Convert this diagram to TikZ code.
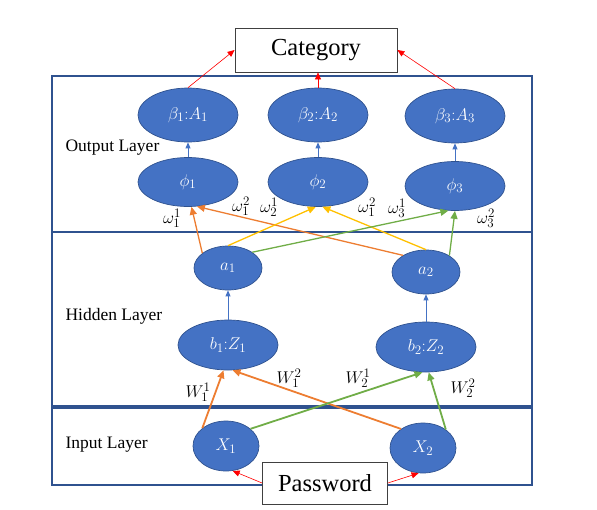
\RequirePackage{fix-cm}
\documentclass[tikz,border=0pt]{standalone}
\usepackage{fontspec}
\setmainfont{Liberation Serif}
\usetikzlibrary{shapes.geometric}
\usetikzlibrary{arrows.meta}
\DeclareMathSizes{17}{17}{13}{10}

\definecolor{nodeblue}{RGB}{68,114,196}
\definecolor{edgeblue}{RGB}{47,82,143}
\definecolor{wOrange}{RGB}{237,125,49}
\definecolor{wYellow}{RGB}{255,192,0}
\definecolor{wGreen}{RGB}{112,173,71}

\begin{document}
\begin{tikzpicture}
	[x=1pt, y=-1pt,
	neuron/.style={ellipse, fill=nodeblue, draw=edgeblue, line width=0.7pt, text=white, inner sep=0pt, font=\fontsize{17}{20}\selectfont},
	layer box/.style={draw=edgeblue, line width=1.3pt},
	io box/.style={draw=black!75, fill=white, line width=0.8pt, inner sep=0pt, font=\fontsize{24.5}{28}\selectfont},
	red link/.style={red, line width=0.6pt, -{Triangle[length=7pt,width=6pt]}},
	blue link/.style={color=nodeblue, line width=0.8pt, -{Triangle[length=6pt,width=5pt]}},
	weight/.style={line width=#1, -{Triangle[length=8pt,width=7pt]}},
	weight/.default=1.3pt,
	layer label/.style={anchor=west, font=\fontsize{17.5}{20}\selectfont},
	wlabel/.style={inner sep=0pt, font=\fontsize{17}{20}\selectfont}]

	\useasboundingbox (0,0) rectangle (597,509);

	% layers
	\draw[layer box] (52,76) rectangle (532,232);
	\draw[layer box] (52,232) rectangle (532,406);
	\draw[layer box] (52,408) rectangle (532,485);
	\node[layer label] (outlbl) at (62,148) {Output Layer};
	\node[layer label] (hidlbl) at (62,316) {Hidden Layer};
	\node[layer label] (inlbl) at (62,445) {Input Layer};

	\node[io box, minimum width=162, minimum height=44] (cat) at (316,50) {Category};
	\node[io box, minimum width=125, minimum height=42] (pwd) at (325,483) {Password};

	\foreach \i/\x/\y in {1/188/115, 2/318/115, 3/455/116}
		\node[neuron, minimum width=100, minimum height=54] (beta\i) at (\x,\y) {$\beta_\i{:}A_\i$};
	\foreach \i/\x/\y in {1/188/182, 2/318/182, 3/455/186}
		\node[neuron, minimum width=100, minimum height=49] (phi\i) at (\x,\y) {$\phi_\i$};
	\foreach \i/\x/\y in {1/228/268, 2/426/272}
		\node[neuron, minimum width=68, minimum height=44] (a\i) at (\x,\y) {$a_\i$};
	\foreach \i/\x/\y in {1/228/345, 2/426/347}
		\node[neuron, minimum width=100, minimum height=50] (b\i) at (\x,\y) {$b_\i{:}Z_\i$};
	\foreach \i/\x/\y in {1/226/446, 2/423/448}
		\node[neuron, minimum width=66, minimum height=50] (x\i) at (\x,\y) {$X_\i$};

	% red and blue links
	\draw[red link] (beta1.north) -- (cat.west);
	\draw[red link] (beta2.north) -- (beta2.north |- cat.south);
	\draw[red link] (beta3.north) -- (cat.east);
	\draw[red link] (pwd.west) -- (x1.285);
	\draw[red link] (pwd.east) -- (x2.260);
	\foreach \i in {1,2,3}
		\draw[blue link] (phi\i) -- (beta\i);
	\foreach \i in {1,2}
		\draw[blue link] (b\i) -- (a\i);

	% input -> hidden
	\draw[weight=1.8pt, wOrange] (x1.143) -- (b1.260);
	\draw[weight=1.8pt, wOrange] (x2.139) -- (b1.280);
	\draw[weight=1.8pt, wGreen] (x1.35) -- (b2.262);
	\draw[weight=1.8pt, wGreen] (x2.39) -- (b2.276);

	% hidden -> output
	\draw[weight, wOrange] (a1.150) -- (phi1.278);
	\draw[weight, wOrange] (a2.144) -- (phi1.290);
	\draw[weight, wYellow] (a1.90) -- (phi2.265);
	\draw[weight, wYellow] (a2.90) -- (phi2.280);
	\draw[weight, wGreen] (a1.33) -- (phi3.255);
	\draw[weight, wGreen] (a2.35) -- (phi3.270);

	\node[wlabel] (w11) at (172,218) {$\omega_1^1$};
	\node[wlabel] (w12) at (241,206) {$\omega_1^2$};
	\node[wlabel] (w21) at (269,207) {$\omega_2^1$};
	\node[wlabel] (w12b) at (367,207) {$\omega_1^2$};
	\node[wlabel] (w31) at (397,208) {$\omega_3^1$};
	\node[wlabel] (w32) at (486,218) {$\omega_3^2$};

	\node[wlabel] (W11) at (198,392) {$W_1^1$};
	\node[wlabel] (W12) at (289,378) {$W_1^2$};
	\node[wlabel] (W21) at (358,378) {$W_2^1$};
	\node[wlabel] (W22) at (463,388) {$W_2^2$};

\end{tikzpicture}
\end{document}
